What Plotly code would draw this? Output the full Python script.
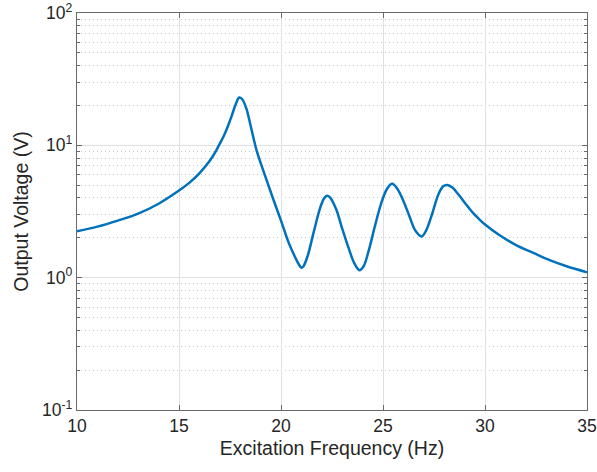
import plotly.graph_objects as go

# Frequency response of the harvester: output voltage vs excitation frequency
freq_hz = [10, 11, 12, 13, 14, 15, 15.5, 16.0, 16.5, 16.8, 17.0, 17.2, 17.4, 17.6, 17.8,
           17.95, 18.1, 18.3, 18.5, 18.8, 19.2, 19.6, 20.0, 20.4, 20.7, 20.9, 21.0, 21.1,
           21.3, 21.6, 21.9, 22.1, 22.25, 22.4, 22.7, 23.0, 23.3, 23.6, 23.85, 24.05,
           24.3, 24.6, 24.9, 25.2, 25.45, 25.7, 26.0, 26.3, 26.6, 26.9, 27.1, 27.4,
           27.7, 27.95, 28.15, 28.4, 28.7, 29.0, 29.4, 29.7, 30.0, 30.7, 31.5, 32.4,
           33.2, 34.0, 35.0]
voltage_v = [2.24, 2.43, 2.70, 3.05, 3.62, 4.55, 5.2, 6.15, 7.6, 9.0, 10.3, 11.8, 14.0, 17.0, 20.8,
             23.0, 22.3, 19.0, 14.3, 9.2, 6.0, 4.0, 2.7, 1.8, 1.42, 1.24, 1.19, 1.22,
             1.45, 2.2, 3.3, 3.95, 4.16, 4.05, 3.3, 2.35, 1.7, 1.28, 1.14, 1.22,
             1.6, 2.44, 3.6, 4.7, 5.12, 4.7, 3.8, 2.9, 2.25, 2.05, 2.25, 3.0,
             4.2, 4.9, 5.02, 4.8, 4.25, 3.7, 3.1, 2.78, 2.52, 2.1, 1.77, 1.53,
             1.35, 1.22, 1.1]

x_ticks = [10, 15, 20, 25, 30, 35]
y_ticks = [0.1, 1, 10, 100]
y_tick_text = ["10<sup>-1</sup>", "10<sup>0</sup>", "10<sup>1</sup>", "10<sup>2</sup>"]
y_minor = [m * d for d in (0.1, 1, 10) for m in range(2, 10)]

font = "Liberation Sans, Arial, sans-serif"
axis_col = "#6a6a6a"

fig = go.Figure()
fig.add_trace(go.Scatter(
    x=freq_hz, y=voltage_v, mode="lines",
    line=dict(color="#0072BD", width=2.5, shape="spline", smoothing=1.0),
    showlegend=False,
))

fig.update_layout(
    width=597, height=472,
    margin=dict(l=77, r=10, t=13, b=62),
    paper_bgcolor="white", plot_bgcolor="white",
    font=dict(family=font, size=17, color="#262626"),
    xaxis=dict(
        range=[10, 35], tickvals=x_ticks, ticks="inside", ticklen=5,
        tickcolor=axis_col, showline=True, linecolor=axis_col, linewidth=1.2,
        mirror="ticks", showgrid=True, gridcolor="#e0e0e0", gridwidth=1,
        zeroline=False, automargin=False,
        title=dict(text="Excitation Frequency (Hz)", standoff=6,
                   font=dict(size=19.5)),
        tickfont=dict(size=17.5),
    ),
    yaxis=dict(
        type="log", range=[-1, 2], tickvals=y_ticks, ticktext=y_tick_text,
        ticks="inside", ticklen=5, tickcolor=axis_col,
        showline=True, linecolor=axis_col, linewidth=1.2, mirror="ticks",
        showgrid=True, gridcolor="#e0e0e0", gridwidth=1, zeroline=False,
        automargin=False,
        minor=dict(tickvals=y_minor, ticks="inside", ticklen=3, tickcolor=axis_col,
                   showgrid=True, gridcolor="#c8c8c8", griddash="1px,3px", gridwidth=1),
        title=dict(text="Output Voltage (V)", standoff=8, font=dict(size=19.5)),
        tickfont=dict(size=17.5),
    ),
)

fig.write_html("out.html")
